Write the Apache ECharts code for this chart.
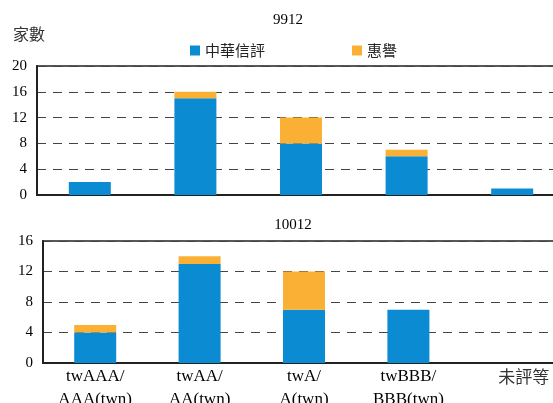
<!DOCTYPE html>
<html>
<head>
<meta charset="utf-8">
<script src="https://cdn.jsdelivr.net/npm/echarts@6.0.0/dist/echarts.min.js"></script>
<style>
  html, body { margin: 0; padding: 0; background: #fff; }
  #chart { width: 553px; height: 403px; }
</style>
</head>
<body>
<div id="chart"></div>
<script>
// 評等分類(兩張圖共用)
const categories = ['twAAA/\nAAA(twn)', 'twAA/\nAA(twn)', 'twA/\nA(twn)', 'twBBB/\nBBB(twn)', '未評等'];
const seriesNames = ['中華信評', '惠譽'];
// 9912
const topCna = [2, 15, 8, 6, 1];
const topFitch = [0, 1, 4, 1, 0];
// 10012
const botCna = [4, 13, 7, 7, 0];
const botFitch = [1, 1, 5, 0, 0];

const BLUE = '#0A8BD2', ORANGE = '#F9B035', INK = '#222';
const SERIF = "'Liberation Serif', 'Noto Sans CJK TC', serif";
const CJK = "'Noto Sans CJK TC', sans-serif";

function yAxis(idx, max) {
  return {
    type: 'value', gridIndex: idx, min: 0, max: max, interval: 4,
    axisLine: { show: true, lineStyle: { color: INK, width: 2 } },
    axisTick: { show: false },
    axisLabel: { color: '#000', fontFamily: SERIF, fontSize: 15, margin: 10 },
    splitLine: { lineStyle: { color: '#444', type: [9, 7], width: 1 } },
  };
}
function xAxis(idx, showLabel) {
  return {
    type: 'category', gridIndex: idx,
    data: categories.map(function (c) {
      if (c === '未評等') return { value: c, textStyle: { fontFamily: CJK, fontSize: 17, padding: [0, 0, 0, 22], color: '#333' } };
      return c;
    }),
    axisLine: { lineStyle: { color: INK, width: 2 } },
    axisTick: { inside: true, length: 4, lineStyle: { color: INK } },
    axisLabel: { show: showLabel, color: '#000', fontFamily: SERIF, fontSize: 17, lineHeight: 23, margin: 2 },
  };
}
function bar(name, data, color, idx) {
  return {
    type: 'bar', name: name, stack: 's' + idx, data: data,
    xAxisIndex: idx, yAxisIndex: idx, barWidth: 42,
    itemStyle: { color: color }, animation: false,
  };
}

const chart = echarts.init(document.getElementById('chart'));
chart.setOption({
  animation: false,
  legend: {
    data: seriesNames, left: 185, top: 38, icon: 'rect',
    itemWidth: 10, itemHeight: 10, itemGap: 87,
    textStyle: { fontFamily: CJK, fontSize: 15, color: '#222' },
  },
  // 原圖右側被裁掉,繪圖區延伸出畫面外
  grid: [
    { left: 37, top: 66, height: 129, width: 528, show: true, borderColor: INK, borderWidth: 1.5, outerBoundsMode: 'none', containLabel: false },
    { left: 43, top: 241, height: 122, width: 522, show: true, borderColor: INK, borderWidth: 1.5, outerBoundsMode: 'none', containLabel: false },
  ],
  xAxis: [xAxis(0, false), xAxis(1, true)],
  yAxis: [yAxis(0, 20), yAxis(1, 16)],
  series: [
    bar(seriesNames[0], topCna, BLUE, 0),
    bar(seriesNames[1], topFitch, ORANGE, 0),
    bar(seriesNames[0], botCna, BLUE, 1),
    bar(seriesNames[1], botFitch, ORANGE, 1),
  ],
  graphic: [
    { type: 'text', x: 288, y: 20, style: { text: '9912', font: '15px ' + SERIF, fill: '#000', align: 'center', verticalAlign: 'middle' } },
    { type: 'text', x: 293, y: 225, style: { text: '10012', font: '15px ' + SERIF, fill: '#000', align: 'center', verticalAlign: 'middle' } },
    { type: 'text', x: 13, y: 34, style: { text: '家數', font: '16px ' + CJK, fill: '#333', align: 'left', verticalAlign: 'middle' } },
  ],
});
</script>
</body>
</html>
